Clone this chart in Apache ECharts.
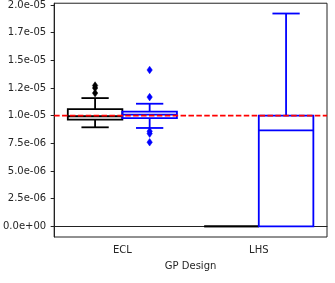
<!DOCTYPE html>
<html>
<head>
<meta charset="utf-8">
<script src="https://cdn.jsdelivr.net/npm/echarts@6/dist/echarts.min.js"></script>
<style>html,body{margin:0;padding:0;background:#fff}#chart{width:335px;height:283px}</style>
</head>
<body>
<div id="chart"></div>
<script>
// Categories and hue groups
const categories = ['ECL', 'LHS'];
// Box stats per category: [lowWhisker, Q1, median, Q3, highWhisker]
const blackBoxes = [
  [0.895e-5, 0.964e-5, 0.995e-5, 1.060e-5, 1.159e-5],
  [0, 0, 0, 0, 0]
];
const blueBoxes = [
  [0.889e-5, 0.978e-5, 1.009e-5, 1.036e-5, 1.108e-5],
  [0, 0, 0.868e-5, 1.000e-5, 1.923e-5]
];
// Outliers per category
const blackOutliers = [[1.204e-5, 1.25e-5, 1.272e-5], []];
const blueOutliers = [[1.413e-5, 1.168e-5, 0.859e-5, 0.838e-5, 0.760e-5], []];
const referenceValue = 1.0e-5;
const yTickValues = [0, 2.5e-6, 5.0e-6, 7.5e-6, 1.0e-5, 1.25e-5, 1.5e-5, 1.75e-5, 2.0e-5];
const yTickLabels = ['0.0e+00', '2.5e-06', '5.0e-06', '7.5e-06', '1.0e-05', '1.2e-05', '1.5e-05', '1.7e-05', '2.0e-05'];

const FONT = 'DejaVu Sans';
const TXT = '#262626';

function boxData(boxes) {
  return boxes.map((b, i) => [i].concat(b));
}
function outlierData(outs) {
  const res = [];
  outs.forEach((arr, i) => arr.forEach(v => res.push([i, v])));
  return res;
}

function makeBoxRender(offsetFrac, color) {
  return function (params, api) {
    const ci = api.value(0);
    const band = api.coord([1, 0])[0] - api.coord([0, 0])[0];
    const cx = api.coord([ci, 0])[0] + offsetFrac * band;
    const w = band * 0.4;
    const cap = w / 2;
    const yLo = api.coord([ci, api.value(1)])[1];
    const yQ1 = api.coord([ci, api.value(2)])[1];
    const yMed = api.coord([ci, api.value(3)])[1];
    const yQ3 = api.coord([ci, api.value(4)])[1];
    const yHi = api.coord([ci, api.value(5)])[1];
    const st = { stroke: color, lineWidth: 1.8, fill: null };
    const children = [];
    if (yHi < yQ3) {
      children.push({ type: 'line', shape: { x1: cx, y1: yQ3, x2: cx, y2: yHi }, style: st });
      children.push({ type: 'line', shape: { x1: cx - cap / 2, y1: yHi, x2: cx + cap / 2, y2: yHi }, style: st });
    }
    if (yLo > yQ1) {
      children.push({ type: 'line', shape: { x1: cx, y1: yQ1, x2: cx, y2: yLo }, style: st });
      children.push({ type: 'line', shape: { x1: cx - cap / 2, y1: yLo, x2: cx + cap / 2, y2: yLo }, style: st });
    }
    children.push({ type: 'rect', shape: { x: cx - w / 2, y: yQ3, width: w, height: yQ1 - yQ3 }, style: { stroke: color, lineWidth: 1.8, fill: 'rgba(0,0,0,0)' } });
    children.push({ type: 'line', shape: { x1: cx - w / 2, y1: yMed, x2: cx + w / 2, y2: yMed }, style: st });
    return { type: 'group', children: children };
  };
}

function makeOutlierRender(offsetFrac, color) {
  return function (params, api) {
    const ci = api.value(0);
    const band = api.coord([1, 0])[0] - api.coord([0, 0])[0];
    const p = api.coord([ci, api.value(1)]);
    const cx = p[0] + offsetFrac * band;
    const cy = p[1];
    const hw = 2.7, hh = 3.8;
    return {
      type: 'polygon',
      shape: { points: [[cx, cy - hh], [cx + hw, cy], [cx, cy + hh], [cx - hw, cy]] },
      style: { fill: color, stroke: color, lineWidth: 0.5 }
    };
  };
}

function renderRefLine(params, api) {
  const y = api.coord([0, api.value(1)])[1];
  const cs = params.coordSys;
  return {
    type: 'line',
    shape: { x1: cs.x, y1: y, x2: cs.x + cs.width, y2: y },
    style: { stroke: '#ff0000', lineWidth: 1.7, lineDash: [5.5, 2.4] }
  };
}

const chart = echarts.init(document.getElementById('chart'), null, { renderer: 'canvas' });
chart.setOption({
  animation: false,
  backgroundColor: '#fff',
  grid: { left: 52, right: 8, top: 3, bottom: 46, show: true, borderColor: '#222', borderWidth: 1, backgroundColor: 'transparent' },
  xAxis: {
    type: 'category',
    data: categories,
    boundaryGap: true,
    name: 'GP Design',
    nameLocation: 'middle',
    nameGap: 24,
    nameTextStyle: { fontFamily: FONT, fontSize: 10, color: TXT },
    axisLine: { lineStyle: { color: '#222', width: 1 } },
    axisTick: { alignWithLabel: true, length: 3.5, lineStyle: { color: '#222' } },
    axisLabel: { fontFamily: FONT, fontSize: 10, color: TXT, margin: 8 },
    splitLine: { show: false }
  },
  yAxis: {
    type: 'value',
    min: -0.96e-6,
    max: 2.016e-5,
    axisLine: { show: true, lineStyle: { color: '#222', width: 1 } },
    axisTick: { show: true, length: 3.5, customValues: yTickValues, lineStyle: { color: '#222' } },
    axisLabel: {
      fontFamily: FONT, fontSize: 10, color: TXT, margin: 8,
      customValues: yTickValues,
      formatter: function (v) {
        let best = 0, bd = Infinity;
        yTickValues.forEach((t, i) => { const d = Math.abs(t - v); if (d < bd) { bd = d; best = i; } });
        return yTickLabels[best];
      }
    },
    splitLine: { show: false }
  },
  series: [
    { type: 'custom', name: 'black', data: boxData(blackBoxes), renderItem: makeBoxRender(-0.2, '#000000'), encode: { x: 0, y: [1, 2, 3, 4, 5] }, z: 2 },
    { type: 'custom', name: 'blue', data: boxData(blueBoxes), renderItem: makeBoxRender(0.2, '#0000ff'), encode: { x: 0, y: [1, 2, 3, 4, 5] }, z: 2 },
    { type: 'custom', name: 'blackOut', data: outlierData(blackOutliers), renderItem: makeOutlierRender(-0.2, '#000000'), encode: { x: 0, y: 1 }, z: 3 },
    { type: 'custom', name: 'blueOut', data: outlierData(blueOutliers), renderItem: makeOutlierRender(0.2, '#0000ff'), encode: { x: 0, y: 1 }, z: 3 },
    { type: 'custom', name: 'ref', data: [[0, referenceValue]], renderItem: renderRefLine, encode: { x: 0, y: 1 }, z: 10, clip: false }
  ]
});
</script>
</body>
</html>
